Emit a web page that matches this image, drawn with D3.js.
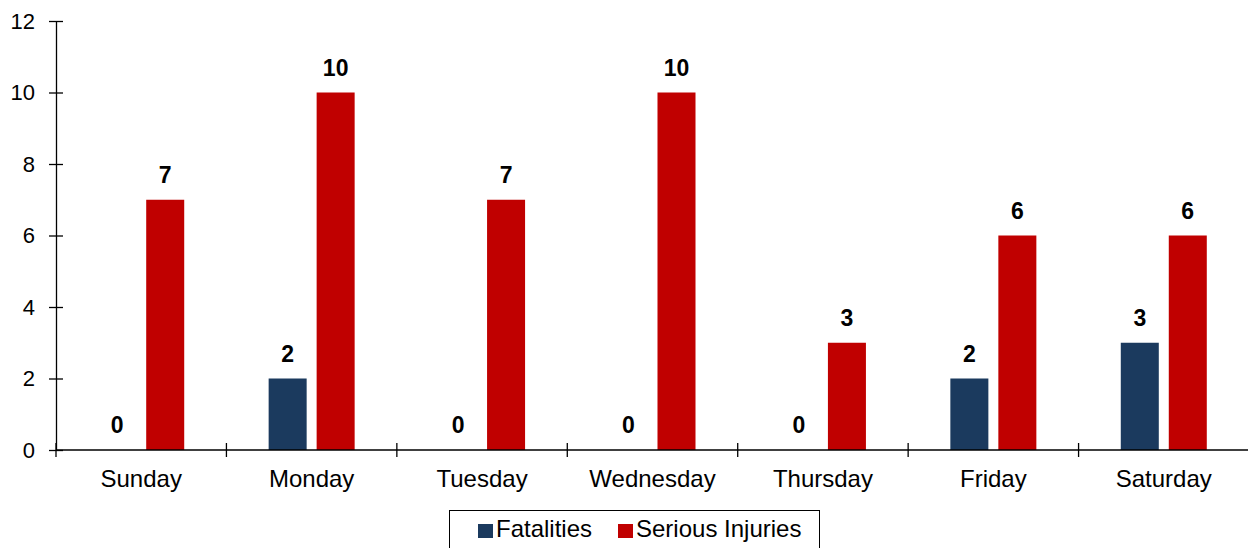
<!DOCTYPE html>
<html>
<head>
<meta charset="utf-8">
<style>
  body { margin: 0; background: #fff; }
  svg { display: block; font-family: "Liberation Sans", Arial, sans-serif; }
</style>
</head>
<body>
<svg width="1248" height="548"></svg>
<script src="https://cdn.jsdelivr.net/npm/d3@7"></script>
<script>

var days = ["Sunday", "Monday", "Tuesday", "Wednesday", "Thursday", "Friday", "Saturday"];
var seriesNames = ["Fatalities", "Serious Injuries"];
var fatalities = [0, 2, 0, 0, 0, 2, 3];
var seriousInjuries = [7, 10, 7, 10, 3, 6, 6];
var yTicks = [0, 2, 4, 6, 8, 10, 12];
var colors = ["#1b3a5e", "#c00000"];

var svg = d3.select("svg"),
    plotLeft = 56, plotRight = 1249, plotTop = 21, plotBottom = 450;

var x0 = d3.scaleBand().domain(days).range([plotLeft, plotRight]);
var bw = x0.bandwidth();
var x1 = d3.scaleBand().domain(seriesNames)
    .range([bw / 2 - 43, bw / 2 + 43])
    .paddingInner(0.208);
var y = d3.scaleLinear().domain([0, 12]).range([plotBottom, plotTop]);
var color = d3.scaleOrdinal().domain(seriesNames).range(colors);

var rows = days.map(function(d, i) {
  return { day: d, values: [
    { key: seriesNames[0], value: fatalities[i] },
    { key: seriesNames[1], value: seriousInjuries[i] }
  ] };
});

// y axis
var yAxis = svg.append("g")
    .attr("transform", "translate(" + plotLeft + ",0)")
    .call(d3.axisLeft(y).tickValues(yTicks).tickSize(7).tickPadding(14).tickSizeOuter(0));
yAxis.select(".domain").attr("stroke", "#000").attr("stroke-width", 1.3);
yAxis.selectAll(".tick line").attr("x1", 7).attr("stroke-width", 1.3);
yAxis.selectAll(".tick text")
    .style("font-size", "22px").attr("fill", "#000")
    .attr("font-family", "Liberation Sans, Arial, sans-serif");

// bars
var groups = svg.selectAll("g.day")
  .data(rows)
  .enter().append("g")
    .attr("class", "day")
    .attr("transform", function(d) { return "translate(" + x0(d.day) + ",0)"; });

groups.selectAll("rect")
  .data(function(d) { return d.values; })
  .enter().append("rect")
    .attr("x", function(d) { return x1(d.key); })
    .attr("y", function(d) { return y(d.value); })
    .attr("width", x1.bandwidth())
    .attr("height", function(d) { return y(0) - y(d.value); })
    .attr("fill", function(d) { return color(d.key); });

groups.selectAll("text")
  .data(function(d) { return d.values; })
  .enter().append("text")
    .attr("x", function(d) { return x1(d.key) + x1.bandwidth() / 2; })
    .attr("y", function(d) { return y(d.value) - 17; })
    .attr("text-anchor", "middle")
    .style("font-size", "23px")
    .style("font-weight", "bold")
    .text(function(d) { return d.value; });

// x axis
var xAxis = svg.append("g").attr("transform", "translate(0," + plotBottom + ")");
xAxis.append("line")
    .attr("x1", plotLeft).attr("x2", plotRight)
    .attr("stroke", "#000").attr("stroke-width", 1.3);
xAxis.selectAll("line.sep")
  .data(days)
  .enter().append("line")
    .attr("class", "sep")
    .attr("x1", function(d) { return x0(d); })
    .attr("x2", function(d) { return x0(d); })
    .attr("y1", -7).attr("y2", 7)
    .attr("stroke", "#000").attr("stroke-width", 1.3);
xAxis.selectAll("text")
  .data(days)
  .enter().append("text")
    .attr("x", function(d) { return x0(d) + bw / 2; })
    .attr("y", 37)
    .attr("text-anchor", "middle")
    .style("font-size", "24px")
    .text(function(d) { return d; });

// legend
var legend = svg.append("g");
legend.append("rect")
    .attr("x", 449.5).attr("y", 510.5)
    .attr("width", 370).attr("height", 50)
    .attr("fill", "none").attr("stroke", "#000").attr("stroke-width", 1);
var legendX = [478, 618];
var items = legend.selectAll("g.item")
  .data(seriesNames)
  .enter().append("g")
    .attr("class", "item")
    .attr("transform", function(d, i) { return "translate(" + legendX[i] + ",0)"; });
items.append("rect")
    .attr("x", 0).attr("y", 524)
    .attr("width", 15).attr("height", 14)
    .attr("fill", function(d) { return color(d); });
items.append("text")
    .attr("x", 18).attr("y", 537)
    .style("font-size", "24px")
    .text(function(d) { return d; });

</script>
</body>
</html>
